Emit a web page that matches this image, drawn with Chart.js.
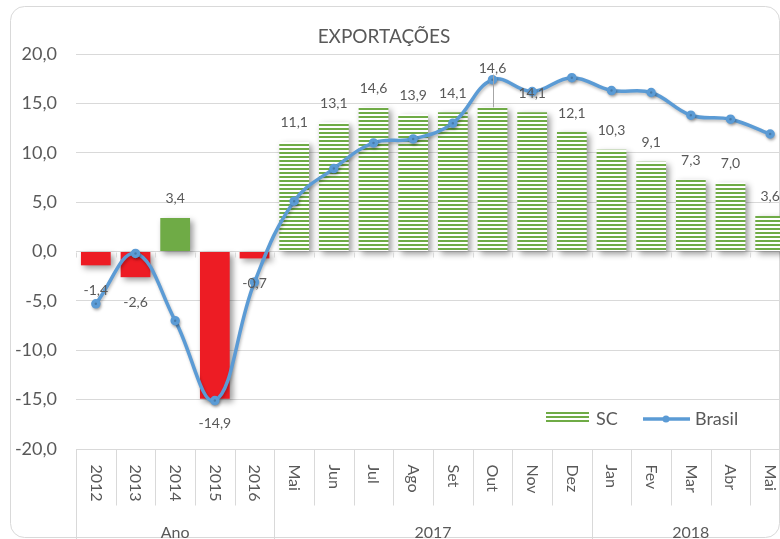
<!DOCTYPE html>
<html>
<head>
<meta charset="utf-8">
<script src="https://cdn.jsdelivr.net/npm/chart.js@4.4.0/dist/chart.umd.min.js"></script>
<style>
html, body { margin: 0; padding: 0; overflow: hidden; background: #fff; }
#wrap { width: 800px; height: 539px; }
</style>
</head>
<body>
<div id="wrap"><canvas id="myChart" width="800" height="539"></canvas></div>
<script>
// periods: yearly totals, then 12-month accumulated variation by month
var categories = ['2012', '2013', '2014', '2015', '2016', 'Mai', 'Jun', 'Jul', 'Ago', 'Set', 'Out', 'Nov', 'Dez', 'Jan', 'Fev', 'Mar', 'Abr', 'Mai'];
var groupLabels = ['Ano', '2017', '2018'];
var groupSizes = [5, 8, 5];
var scValues = [-1.4, -2.6, 3.4, -14.9, -0.7, 11.1, 13.1, 14.6, 13.9, 14.1, 14.6, 14.1, 12.1, 10.3, 9.1, 7.3, 7.0, 3.6];
var brasilValues = [-5.3, -0.2, -7.0, -15.1, -3.1, 5.1, 8.4, 11.0, 11.4, 13.0, 17.4, 16.2, 17.6, 16.3, 16.1, 13.8, 13.4, 11.9];
var yearCount = 5;

var GRAY = '#595959';
var GRID = '#d9d9d9';
var RED = '#ed1c24';
var GREEN = '#6fab46';
var BLUE = '#5b9bd5';
var FONT = 'Lato';

var ctx = document.getElementById('myChart').getContext('2d');

function fmt(v) {
    return v.toFixed(1).replace('.', ',');
}

// horizontal green/white stripes
function stripes(color) {
    var c = document.createElement('canvas');
    c.width = 4; c.height = 4;
    var p = c.getContext('2d');
    p.fillStyle = '#fff'; p.fillRect(0, 0, 4, 4);
    p.fillStyle = color; p.fillRect(0, 0, 4, 2);
    return ctx.createPattern(c, 'repeat');
}
var striped = stripes(GREEN);

var barColors = [];
for (var i = 0; i < scValues.length; ++i) {
    if (i < yearCount) barColors.push(scValues[i] < 0 ? RED : GREEN);
    else barColors.push(striped);
}

var frame = {
    id: 'frame',
    beforeDraw: function(chart) {
        var c = chart.ctx;
        c.save();
        c.fillStyle = '#fff';
        c.fillRect(0, 0, chart.width, chart.height);
        var x0 = 10.5, y0 = 6.5, x1 = 779.5, y1 = 537.5, r = 14;
        c.beginPath();
        c.moveTo(x0 + r, y0);
        c.arcTo(x1, y0, x1, y1, r);
        c.arcTo(x1, y1, x0, y1, r);
        c.arcTo(x0, y1, x0, y0, r);
        c.arcTo(x0, y0, x1, y0, r);
        c.closePath();
        c.strokeStyle = GRID;
        c.lineWidth = 1;
        c.stroke();
        c.fillStyle = GRAY;
        c.font = '19px ' + FONT;
        c.textAlign = 'center';
        c.textBaseline = 'alphabetic';
        c.fillText('EXPORTAÇÕES', 384, 42.5);
        c.restore();
    }
};

var shadows = {
    id: 'shadows',
    beforeDatasetDraw: function(chart, args) {
        var c = chart.ctx;
        c.save();
        if (args.meta.type === 'bar') {
            c.shadowColor = 'rgba(0,0,0,0.4)';
            c.shadowBlur = 6; c.shadowOffsetX = 3; c.shadowOffsetY = 3;
        } else {
            c.shadowColor = 'rgba(0,0,0,0.25)';
            c.shadowBlur = 3; c.shadowOffsetX = 1; c.shadowOffsetY = 2;
        }
    },
    afterDatasetDraw: function(chart) {
        chart.ctx.restore();
    }
};

var barLabels = {
    id: 'barLabels',
    afterDatasetsDraw: function(chart, args, opts) {
        var c = chart.ctx;
        var bars = chart.getDatasetMeta(1).data;
        var pts = chart.getDatasetMeta(0).data;
        c.save();
        c.font = '14px ' + FONT;
        c.fillStyle = GRAY;
        c.textAlign = 'center';
        c.textBaseline = 'middle';
        bars.forEach(function(bar, i) {
            var v = scValues[i];
            var y = v >= 0 ? bar.y - 19 : bar.y + 25;
            if (opts.lifted.indexOf(i) >= 0) {
                // label moved above the line, with a leader to the bar
                y = pts[i].y - 11;
                var lx = Math.round(bar.x) + 0.5;
                c.strokeStyle = '#a6a6a6';
                c.lineWidth = 1;
                c.beginPath();
                c.moveTo(lx, y + 6);
                c.lineTo(lx, bar.y);
                c.stroke();
            }
            c.fillText(fmt(v), bar.x, y);
        });
        c.restore();
    }
};

var catAxis = {
    id: 'catAxis',
    afterDraw: function(chart) {
        var c = chart.ctx, xs = chart.scales.x, ys = chart.scales.y, area = chart.chartArea;
        var n = categories.length;
        var step = (area.right - area.left) / n;
        var y0 = Math.round(ys.getPixelForValue(0)) + 0.5;
        var bottom = Math.round(area.bottom) + 0.5;
        var bounds = [0], acc = 0;
        groupSizes.forEach(function(s) { acc += s; bounds.push(acc); });

        c.save();
        c.strokeStyle = GRID;
        c.lineWidth = 1;
        c.beginPath();
        for (var i = 0; i <= n; i++) {
            var x = Math.round(area.left + i * step) + 0.5;
            c.moveTo(x, y0); c.lineTo(x, y0 + 5);
            c.moveTo(x, bottom);
            c.lineTo(x, bounds.indexOf(i) >= 0 ? chart.height : bottom + 56);
        }
        c.stroke();

        c.fillStyle = GRAY;
        c.font = '16px ' + FONT;
        c.textAlign = 'left';
        c.textBaseline = 'middle';
        categories.forEach(function(lab, i) {
            c.save();
            c.translate(xs.getPixelForValue(i), bottom + 15);
            c.rotate(Math.PI / 2);
            c.fillText(lab, 0, 0);
            c.restore();
        });

        c.textAlign = 'center';
        c.textBaseline = 'alphabetic';
        groupLabels.forEach(function(g, k) {
            var a = area.left + bounds[k] * step, b = area.left + bounds[k + 1] * step;
            c.fillText(g, (a + b) / 2, 538);
        });

        // legend
        var ly = 419;
        c.fillStyle = striped;
        c.fillRect(546, 412, 43, 10);
        c.fillStyle = GRAY;
        c.font = '18px ' + FONT;
        c.textAlign = 'left';
        c.textBaseline = 'middle';
        c.fillText(chart.data.datasets[1].label, 596, ly);
        c.strokeStyle = BLUE;
        c.lineWidth = 3.5;
        c.beginPath();
        c.moveTo(643, ly); c.lineTo(690, ly);
        c.stroke();
        c.fillStyle = BLUE;
        c.beginPath();
        c.arc(666, ly, 3.5, 0, Math.PI * 2);
        c.fill();
        c.fillStyle = GRAY;
        c.fillText(chart.data.datasets[0].label, 695, ly);
        c.restore();
    }
};

var chart = new Chart(ctx, {
    type: 'bar',
    data: {
        labels: categories,
        datasets: [{
            type: 'line',
            label: 'Brasil',
            data: brasilValues,
            borderColor: BLUE,
            backgroundColor: BLUE,
            borderWidth: 3.5,
            tension: 0.4,
            pointRadius: 3,
            pointBackgroundColor: BLUE,
            pointBorderColor: BLUE,
            order: 0
        }, {
            type: 'bar',
            label: 'SC',
            data: scValues,
            backgroundColor: barColors,
            borderWidth: 0,
            categoryPercentage: 1,
            barPercentage: 0.75,
            order: 1
        }]
    },
    options: {
        responsive: false,
        animation: false,
        layout: { padding: { top: 54, right: 10, left: 0, bottom: 0 } },
        plugins: {
            legend: { display: false },
            title: { display: false },
            tooltip: { enabled: false },
            barLabels: { lifted: [10] }
        },
        scales: {
            x: {
                grid: { display: false },
                border: { display: false },
                ticks: { display: false },
                afterFit: function(s) { s.height = 90; }
            },
            y: {
                min: -20,
                max: 20,
                grid: { color: GRID, drawTicks: false },
                border: { display: false },
                ticks: {
                    stepSize: 5,
                    padding: 19,
                    color: GRAY,
                    font: { family: FONT, size: 18 },
                    callback: function(v) { return fmt(v); }
                },
                afterFit: function(s) { s.width = 76; }
            }
        }
    },
    plugins: [frame, shadows, barLabels, catAxis]
});
</script>
</body>
</html>
